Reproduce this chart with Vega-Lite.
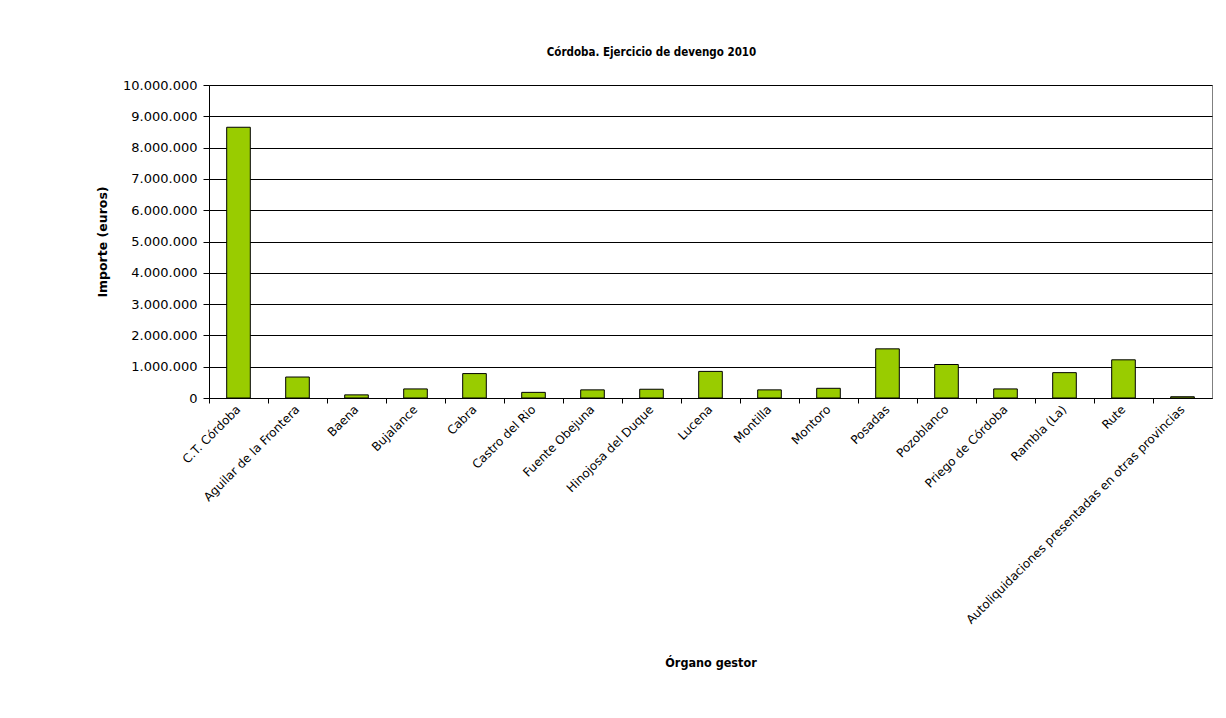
{
  "$schema": "https://vega.github.io/schema/vega-lite/v6.json",
  "autosize": {"type": "none"},
  "padding": {"left": 209, "top": 85, "right": 14, "bottom": 320},
  "width": 1003,
  "height": 313,
  "background": "white",
  "title": {
    "text": "Córdoba. Ejercicio de devengo 2010",
    "font": "Liberation Sans Narrow, DejaVu Sans Condensed",
    "fontSize": 11.5,
    "fontWeight": "bold",
    "color": "black",
    "offset": 21,
    "dx": -59,
    "anchor": "middle"
  },
  "data": {
    "values": [
      {"organo": "C.T. Córdoba", "importe": 8650000},
      {"organo": "Aguilar de la Frontera", "importe": 670000},
      {"organo": "Baena", "importe": 100000},
      {"organo": "Bujalance", "importe": 290000},
      {"organo": "Cabra", "importe": 780000},
      {"organo": "Castro del Rio", "importe": 180000},
      {"organo": "Fuente Obejuna", "importe": 260000},
      {"organo": "Hinojosa del Duque", "importe": 280000},
      {"organo": "Lucena", "importe": 850000},
      {"organo": "Montilla", "importe": 260000},
      {"organo": "Montoro", "importe": 310000},
      {"organo": "Posadas", "importe": 1570000},
      {"organo": "Pozoblanco", "importe": 1070000},
      {"organo": "Priego de Córdoba", "importe": 290000},
      {"organo": "Rambla (La)", "importe": 810000},
      {"organo": "Rute", "importe": 1220000},
      {"organo": "Autoliquidaciones presentadas en otras provincias", "importe": 40000}
    ]
  },
  "layer": [
    {
      "mark": {"type": "bar", "fill": "#99CC00", "stroke": "black", "strokeWidth": 1, "width": {"band": 0.4}},
      "encoding": {
        "x": {
          "field": "organo", "type": "nominal", "sort": null,
          "scale": {"paddingInner": 0, "paddingOuter": 0},
          "axis": {
            "orient": "bottom",
            "title": "Órgano gestor",
            "titleFont": "Liberation Sans Narrow, DejaVu Sans Condensed",
            "titleFontSize": 12.5,
            "titleFontWeight": "bold",
            "titleColor": "black",
            "titlePadding": 58,
            "labelAngle": -45,
            "labelAlign": "right",
            "labelBaseline": "middle",
            "labelFont": "DejaVu Sans",
            "labelFontSize": 12,
            "labelColor": "black",
            "labelPadding": 9,
            "labelLimit": 400,
            "ticks": false,
            "domain": true,
            "domainColor": "black",
            "domainWidth": 1,
            "grid": false
          }
        },
        "y": {
          "field": "importe", "type": "quantitative",
          "scale": {"domain": [0, 10000000], "nice": false},
          "axis": {
            "title": "Importe (euros)",
            "titleFont": "DejaVu Sans",
            "titleFontSize": 12.5,
            "titleFontWeight": "bold",
            "titleColor": "black",
            "titlePadding": 13,
            "values": [0, 1000000, 2000000, 3000000, 4000000, 5000000, 6000000, 7000000, 8000000, 9000000, 10000000],
            "labelOverlap": false,
            "format": ",d",
            "labelFont": "DejaVu Sans",
            "labelFontSize": 13,
            "labelColor": "black",
            "labelPadding": 6,
            "tickSize": 6,
            "tickColor": "black",
            "domainColor": "black",
            "grid": true,
            "gridColor": "black",
            "gridWidth": 1
          }
        }
      }
    },
    {
      "mark": {"type": "rule", "opacity": 0},
      "encoding": {
        "x": {
          "field": "organo", "type": "nominal", "sort": null,
          "axis": {
            "orient": "bottom",
            "title": null,
            "labels": false,
            "domain": false,
            "ticks": true,
            "tickSize": 5,
            "tickColor": "black",
            "bandPosition": 0,
            "grid": false
          }
        }
      }
    }
  ],
  "resolve": {"axis": {"x": "independent"}},
  "config": {
    "locale": {"number": {"decimal": ",", "thousands": ".", "grouping": [3], "currency": ["", " €"]}},
    "view": {"stroke": "#808080", "strokeWidth": 1}
  }
}
